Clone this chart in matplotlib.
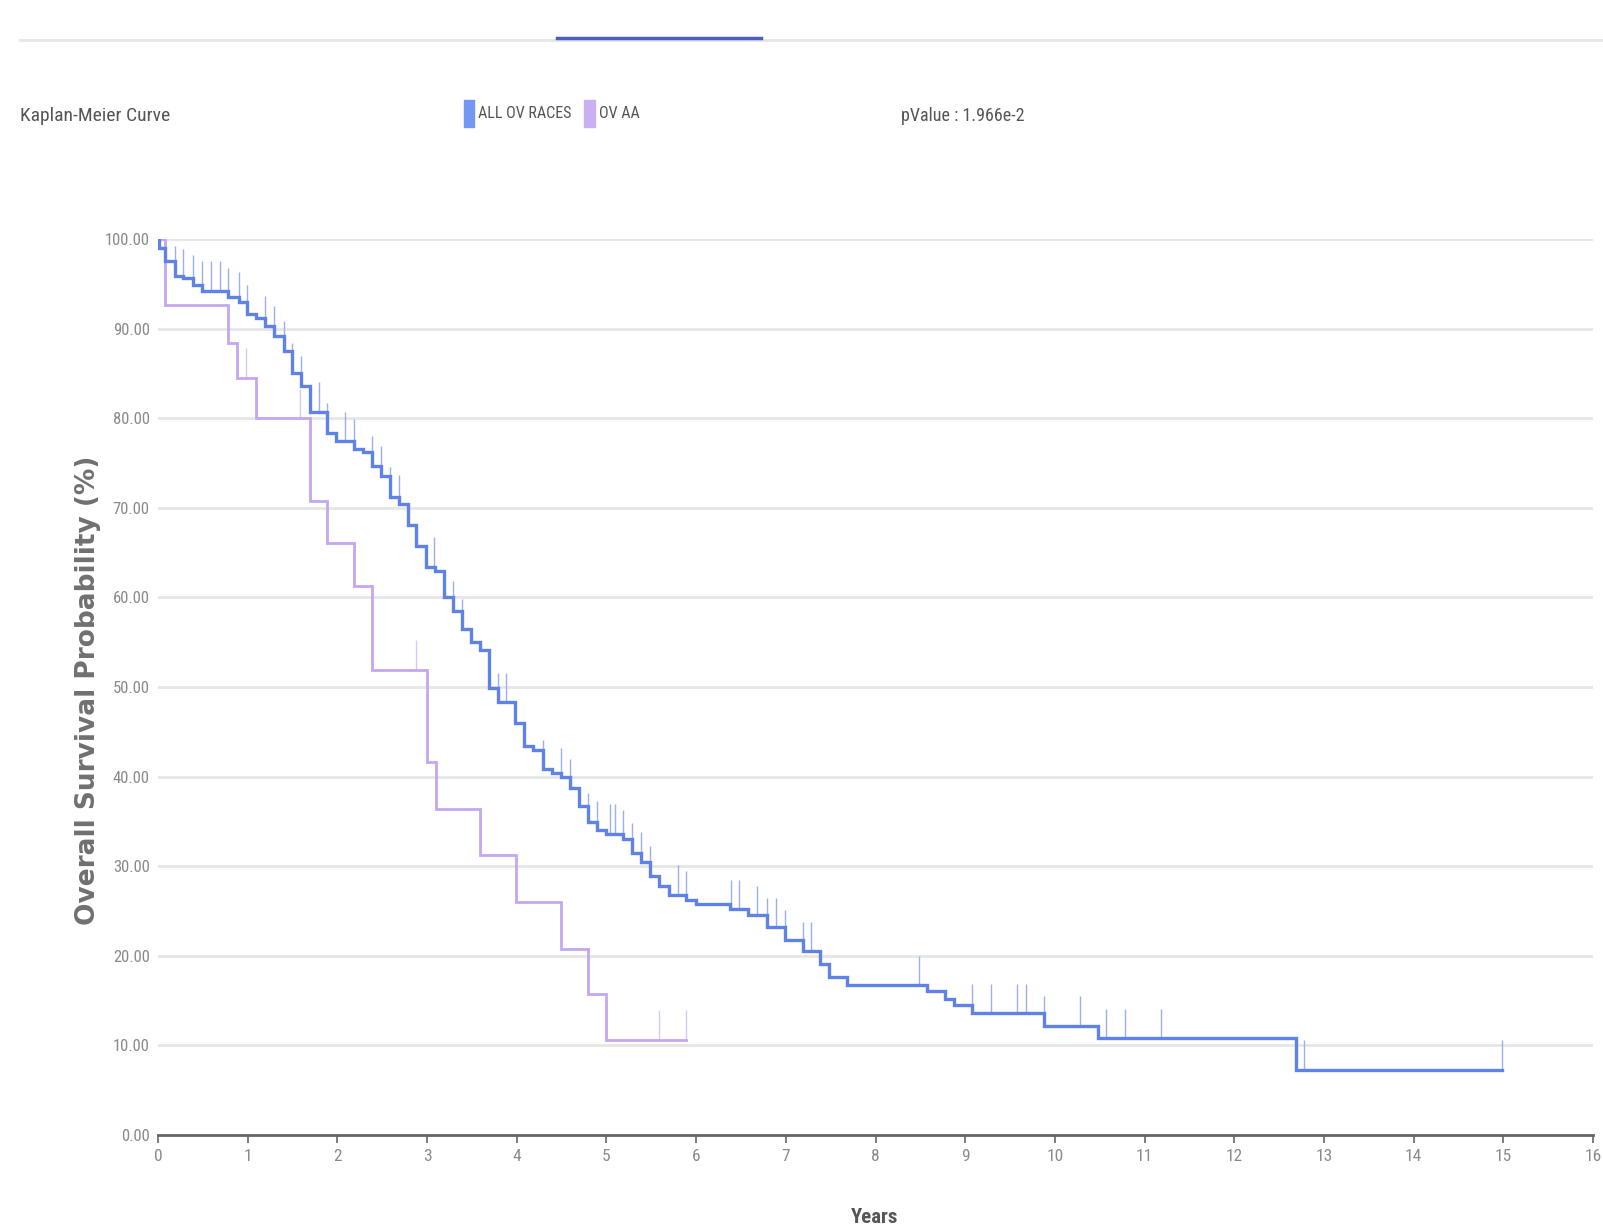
"""
Kaplan-Meier overall survival, ALL OV RACES vs OV AA.
"""

import numpy as np
import matplotlib
matplotlib.use('Agg')
import matplotlib.pyplot as plt
from matplotlib import font_manager

### Data
# ALL OV RACES: drop times (years) and survival (%) after each drop
all_times  = [0.0, 0.01, 0.08, 0.19, 0.28, 0.39, 0.49, 0.78, 0.90, 0.99, 1.09, 1.19, 1.29,
              1.40, 1.49, 1.59, 1.69, 1.88, 1.99, 2.19, 2.29, 2.39, 2.49, 2.59, 2.69,
              2.79, 2.88, 2.99, 3.09, 3.19, 3.29, 3.39, 3.49, 3.59, 3.69, 3.79, 3.98,
              4.08, 4.18, 4.29, 4.39, 4.49, 4.59, 4.69, 4.79, 4.89, 4.99, 5.19, 5.29,
              5.39, 5.49, 5.59, 5.70, 5.89, 6.00, 6.38, 6.58, 6.79, 6.99, 7.19, 7.38,
              7.48, 7.68, 8.57, 8.78, 8.88, 9.08, 9.88, 10.48, 12.69]
all_values = [100.0, 99.0, 97.5, 95.9, 95.6, 94.9, 94.2, 93.5, 93.0, 91.6, 91.2, 90.3, 89.2,
              87.5, 85.1, 83.6, 80.7, 78.4, 77.4, 76.6, 76.2, 74.7, 73.6, 71.2, 70.4,
              68.1, 65.7, 63.4, 62.9, 60.0, 58.5, 56.5, 55.0, 54.1, 49.9, 48.3, 46.0,
              43.4, 43.0, 40.8, 40.4, 39.9, 38.7, 36.7, 34.9, 34.0, 33.6, 33.0, 31.5,
              30.5, 28.9, 27.8, 26.8, 26.2, 25.8, 25.2, 24.5, 23.2, 21.8, 20.5, 19.1,
              17.6, 16.7, 16.1, 15.2, 14.5, 13.6, 12.2, 10.8, 7.3]
all_end    = 14.99
all_censor = [0.0, 0.08, 0.19, 0.28, 0.39, 0.49, 0.59, 0.69, 0.78, 0.90, 0.99, 1.19, 1.29,
              1.40, 1.49, 1.59, 1.79, 1.88, 2.09, 2.19, 2.39, 2.49, 2.59, 2.69, 3.08,
              3.29, 3.39, 3.69, 3.79, 3.88, 4.29, 4.49, 4.59, 4.79, 4.89, 5.04, 5.09,
              5.19, 5.29, 5.39, 5.49, 5.80, 5.89, 6.39, 6.48, 6.68, 6.79, 6.89, 6.99,
              7.19, 7.28, 8.49, 9.08, 9.29, 9.58, 9.68, 9.88, 10.28, 10.57, 10.78,
              11.18, 12.78, 14.99]

# OV AA
aa_times  = [0.0, 0.08, 0.78, 0.88, 1.09, 1.69, 1.88, 2.19, 2.39, 3.00, 3.10, 3.59, 3.99,
             4.49, 4.79, 4.99]
aa_values = [100.0, 92.6, 88.4, 84.5, 80.0, 70.8, 66.1, 61.3, 51.9, 41.6, 36.4, 31.2, 26.0,
             20.8, 15.7, 10.6]
aa_end    = 5.89
aa_censor = [0.98, 1.58, 2.88, 5.59, 5.89]

series_names = ['ALL OV RACES', 'OV AA']
p_value      = '1.966e-2'
y_ticks      = [0, 10, 20, 30, 40, 50, 60, 70, 80, 90, 100]
x_ticks      = list(range(0, 17))

### Style
blue         = '#5f82e6'
blue_light   = '#9ab0f0'
purple       = '#c4a7ef'
purple_light = '#d9c8f5'
grey_text    = '#8a8a8a'

names = {f.name for f in font_manager.fontManager.ttflist}
narrow = next((n for n in ['Roboto Condensed', 'Liberation Sans Narrow', 'Roboto']
               if n in names), 'DejaVu Sans')

### Helpers
def level_at(times, values, t):
    """survival level of a step curve at time t (after any drop at t)"""
    idx = np.searchsorted(times, t, side='right') - 1
    return np.asarray(values)[idx]

def draw_curve(ax, times, values, end, censor, color, censor_color, lw):
    t = list(times) + [end]
    v = list(values) + [values[-1]]
    ax.step(t, v, where='post', color=color, linewidth=lw, solid_joinstyle='miter', zorder=3)
    base = level_at(times, values, np.array(censor))
    ax.vlines(censor, base, base + 3.3, color=censor_color, linewidth=1.0, zorder=2)

### Figure
W, H = 1603, 1225
fig = plt.figure(figsize=(W / 100, H / 100), dpi=100)
ax = fig.add_axes([158 / W, 1 - 1135 / H, (1593 - 158) / W, (1135 - 239) / H])

draw_curve(ax, aa_times, aa_values, aa_end, aa_censor, purple, purple_light, 2.0)
draw_curve(ax, all_times, all_values, all_end, all_censor, blue, blue_light, 2.4)

ax.set_xlim(0, 16)
ax.set_ylim(0, 100)
for y in y_ticks[1:]:
    ax.axhline(y, color='#e6e6e6', linewidth=2, zorder=1)

for sp in ['left', 'right', 'top']:
    ax.spines[sp].set_visible(False)
ax.spines['bottom'].set_color('#666666')
ax.spines['bottom'].set_linewidth(2)
ax.spines['bottom'].set_zorder(4)

ax.set_xticks(x_ticks)
ax.set_xticklabels([str(x) for x in x_ticks])
ax.set_yticks(y_ticks)
ax.set_yticklabels([f'{y:.2f}' for y in y_ticks])
ax.tick_params(axis='x', direction='out', length=6, width=1.2, color='#666666',
               pad=4, labelsize=12.5, labelcolor=grey_text)
ax.tick_params(axis='y', length=0, pad=6, labelsize=12, labelcolor=grey_text)
for lab in ax.get_xticklabels() + ax.get_yticklabels():
    lab.set_family(narrow)

# axis titles
fig.text(88 / W, 1 - 690 / H, 'Overall Survival Probability (%)', rotation=90,
         ha='center', va='center', fontsize=19, fontweight='bold', color='#707070',
         family='DejaVu Sans')
fig.text(875 / W, 1 - 1208 / H, 'Years', ha='center', va='top', fontsize=15,
         fontweight='bold', color='#555555', family=narrow)

# header
fig.text(20 / W, 1 - 116 / H, 'Kaplan-Meier Curve', ha='left', va='center',
         fontsize=14, color='#555555', family=narrow)
fig.patches.append(plt.Rectangle((464 / W, 1 - 127 / H), 10 / W, 27 / H,
                                 transform=fig.transFigure, color='#7397f2'))
fig.text(478 / W, 1 - 113 / H, series_names[0], ha='left', va='center',
         fontsize=11.5, color='#555555', family=narrow)
fig.patches.append(plt.Rectangle((584 / W, 1 - 127 / H), 11 / W, 27 / H,
                                 transform=fig.transFigure, color='#c9b0f2'))
fig.text(599 / W, 1 - 113 / H, series_names[1], ha='left', va='center',
         fontsize=11.5, color='#555555', family=narrow)
fig.text(901 / W, 1 - 116 / H, f'pValue : {p_value}', ha='left', va='center',
         fontsize=13, color='#555555', family=narrow)

# tab rule at the top
fig.add_artist(plt.Line2D([20 / W, 1], [1 - 40 / H, 1 - 40 / H], transform=fig.transFigure,
                          color='#e6e6e6', linewidth=2))
fig.add_artist(plt.Line2D([557 / W, 761 / W], [1 - 38 / H, 1 - 38 / H],
                          transform=fig.transFigure, color='#4a5fc1', linewidth=2.5))

fig.savefig('out.png', dpi=100)
